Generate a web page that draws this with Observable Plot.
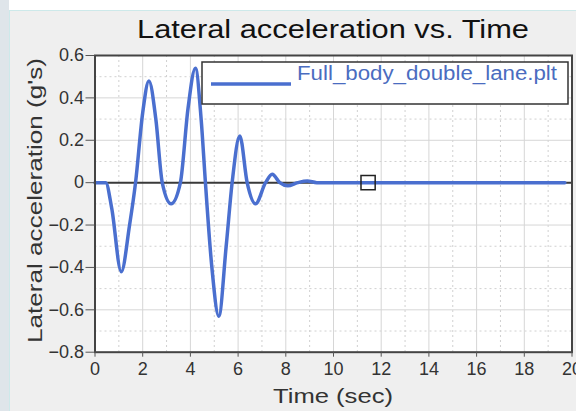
<!DOCTYPE html>
<html>
<head>
<meta charset="utf-8">
<script src="https://cdn.jsdelivr.net/npm/d3@7"></script>
<script src="https://cdn.jsdelivr.net/npm/@observablehq/plot@0.6"></script>
<style>
  html, body { margin: 0; padding: 0; background: #ffffff; }
  body { width: 576px; height: 411px; overflow: hidden; position: relative; font-family: Arial, "Liberation Sans", sans-serif; }
  #left { position: absolute; left: 0; top: 0; width: 9px; height: 411px; background: #dfe5ea; }
  #frame { position: absolute; left: 9px; top: 10px; width: 567px; height: 401px; background: #efefef; border-top: 1px solid #cde9ea; border-left: 1px solid #cde9ea; }
  #title { position: absolute; left: 0; top: 0; }
  #chart { position: absolute; left: 0; top: 46px; }
</style>
</head>
<body>
<div id="left"></div>
<div id="frame"></div>
<svg id="title" width="576" height="46">
  <text x="333" y="38" text-anchor="middle" font-family="Arial, 'Liberation Sans', sans-serif" font-size="25" fill="#111" textLength="392" lengthAdjust="spacingAndGlyphs">Lateral acceleration vs. Time</text>
</svg>
<div id="chart"></div>
<script>
// Time (sec)
const time = [0, 0.45, 0.7, 1.1, 1.45, 1.7, 2.0, 2.26, 2.55, 2.82, 3.19, 3.58, 3.9, 4.21, 4.45, 4.63, 4.9, 5.19, 5.5, 5.75, 6.07, 6.38, 6.73, 7.15, 7.43, 7.75, 8.08, 8.5, 8.9, 9.3, 19.7];
// Lateral acceleration (g's)
const accel = [0, 0, -0.12, -0.42, -0.2, 0, 0.33, 0.48, 0.3, 0, -0.10, 0, 0.35, 0.54, 0.3, 0, -0.4, -0.63, -0.3, 0, 0.22, 0, -0.10, 0, 0.04, 0, -0.015, 0, 0.008, 0, 0];
const seriesName = "Full_body_double_lane.plt";
const xTicks = [0, 2, 4, 6, 8, 10, 12, 14, 16, 18, 20];
const yTicks = [-0.8, -0.6, -0.4, -0.2, 0, 0.2, 0.4, 0.6];
const xMinor = [1, 3, 5, 7, 9, 11, 13, 15, 17, 19];
const yMinor = [-0.7, -0.5, -0.3, -0.1, 0.1, 0.3, 0.5];
const markerPoint = [{t: 11.45, v: 0}];

const data = time.map((t, i) => ({t, v: accel[i]}));
const lineColor = "#4a6fcf";
const font = "Arial, 'Liberation Sans', sans-serif";

const W = 576, H = 365;
const mL = 94.5, mR = 4.5, mT = 9, mB = 59.3;

const plot = Plot.plot({
  width: W, height: H,
  marginLeft: mL, marginRight: mR, marginTop: mT, marginBottom: mB,
  style: { background: "transparent", fontFamily: font, overflow: "visible" },
  x: { domain: [0, 20], ticks: xTicks, label: null },
  y: { domain: [-0.8, 0.6], ticks: yTicks, label: null },
  marks: [
    Plot.frame({fill: "white", stroke: "none"}),
    Plot.ruleX(xMinor, {stroke: "#d0d0d0", strokeDasharray: "2,3", strokeWidth: 1}),
    Plot.ruleY(yMinor, {stroke: "#d0d0d0", strokeDasharray: "2,3", strokeWidth: 1}),
    Plot.ruleX(xTicks, {stroke: "#d6d6d6", strokeWidth: 1}),
    Plot.ruleY(yTicks, {stroke: "#d6d6d6", strokeWidth: 1}),
    Plot.ruleY([0], {stroke: "#3a3a3a", strokeWidth: 2}),
    Plot.line(data, {x: "t", y: "v", stroke: lineColor, strokeWidth: 3.5, curve: "monotone-x"}),
    Plot.dot(markerPoint, {x: "t", y: "v", symbol: "square", r: 8, stroke: "#222", strokeWidth: 1.5, fill: "none"}),
    Plot.frame({stroke: "#444", strokeWidth: 2}),
    Plot.axisX(xTicks, {tickSize: 5, tickPadding: 5, fontSize: 18, fill: "#333", stroke: "#555", label: null}),
    Plot.axisY(yTicks, {tickSize: 9, tickPadding: 2, fontSize: 18, fill: "#333", stroke: "#555", label: null, tickFormat: d => d === 0 ? "0" : d3.format(".1f")(d)})
  ]
});
document.getElementById("chart").appendChild(plot);

const svg = d3.select(plot);
const sx = plot.scale("x"), sy = plot.scale("y");
const xMid = (sx.apply(0) + sx.apply(20)) / 2;

// x-axis title
svg.append("text")
  .attr("x", xMid).attr("y", 357)
  .attr("text-anchor", "middle")
  .attr("font-size", 21).attr("fill", "#333").attr("font-family", font)
  .attr("textLength", 120).attr("lengthAdjust", "spacingAndGlyphs")
  .text("Time (sec)");

// y-axis title
svg.append("text")
  .attr("transform", `translate(42,154.5) rotate(-90)`)
  .attr("text-anchor", "middle")
  .attr("font-size", 21).attr("fill", "#333").attr("font-family", font)
  .attr("textLength", 285).attr("lengthAdjust", "spacingAndGlyphs")
  .text("Lateral acceleration (g's)");

// legend box
const lg = svg.append("g");
lg.append("rect").attr("x", 202).attr("y", 16).attr("width", 366).attr("height", 42)
  .attr("fill", "white").attr("stroke", "#333").attr("stroke-width", 1.5);
lg.append("line").attr("x1", 211).attr("x2", 291).attr("y1", 38).attr("y2", 38)
  .attr("stroke", lineColor).attr("stroke-width", 3.5);
lg.append("text").attr("x", 297).attr("y", 34)
  .attr("text-anchor", "start")
  .attr("font-size", 20).attr("fill", "#4a6cc0").attr("font-family", font)
  .attr("textLength", 260).attr("lengthAdjust", "spacingAndGlyphs")
  .text(seriesName);
</script>
</body>
</html>
